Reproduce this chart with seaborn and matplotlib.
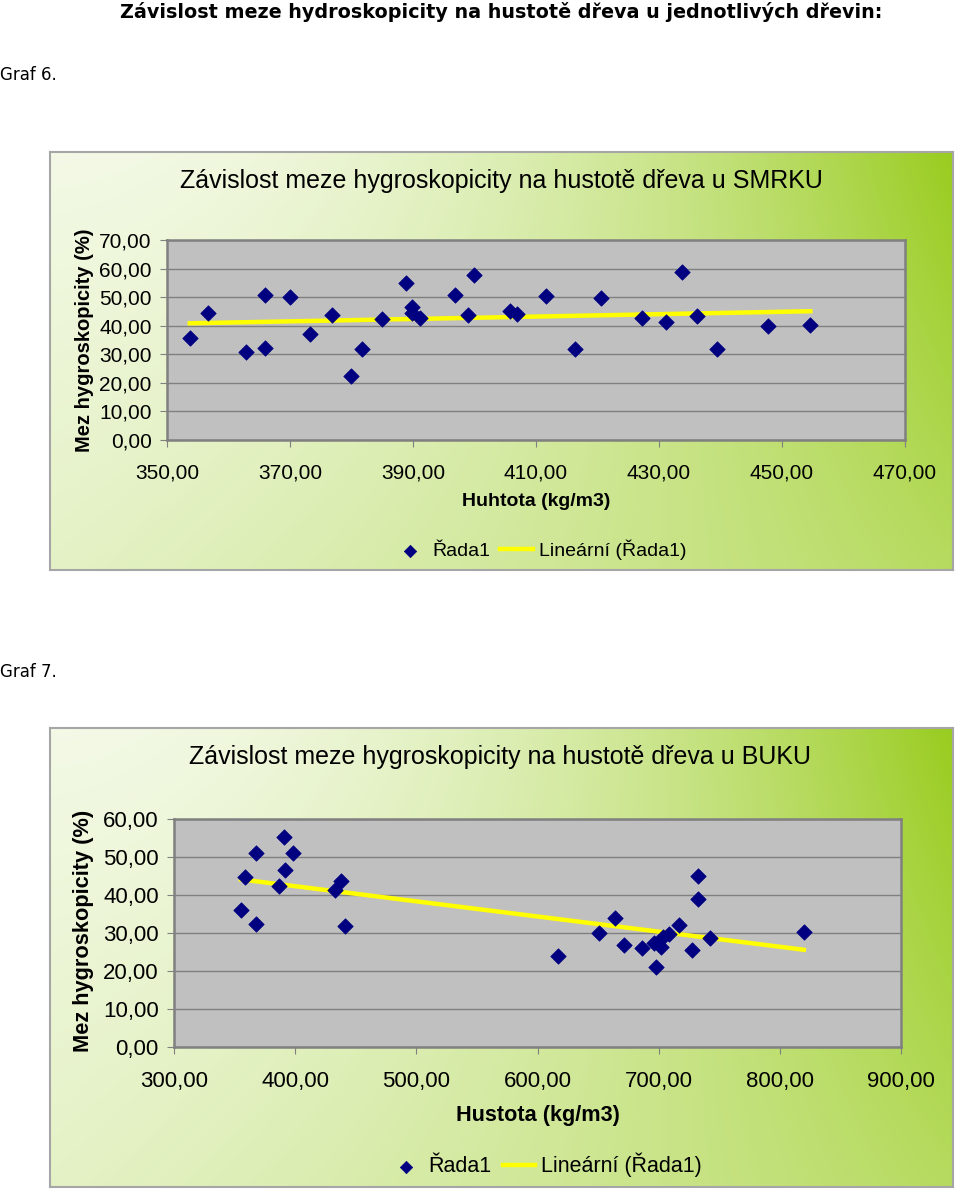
import numpy as np
import pandas as pd
import matplotlib
matplotlib.use('Agg')
import matplotlib.pyplot as plt
import seaborn as sns

# data
smrk_hustota = [353.7, 356.6, 362.9, 365.9, 365.9, 370.0, 373.3, 376.8, 379.9, 381.7,
                384.9, 388.9, 389.9, 389.9, 391.1, 396.9, 399.9, 398.9, 405.8, 406.9,
                411.7, 416.4, 420.6, 427.3, 431.1, 433.8, 436.1, 439.5, 447.8, 454.6]
smrk_mez = [35.8, 44.6, 30.7, 50.7, 32.3, 49.9, 37.0, 43.7, 22.3, 31.9,
            42.2, 55.1, 46.6, 44.6, 42.7, 50.9, 57.9, 43.6, 45.2, 44.1,
            50.3, 32.0, 49.8, 42.8, 41.2, 58.8, 43.3, 31.9, 39.8, 40.1]

buk_hustota = [390.8, 367.9, 398.5, 391.6, 358.6, 386.4, 437.6, 432.9, 355.3, 367.9, 441.1,
               617.2, 650.8, 664.0, 671.1, 686.2, 696.1, 697.5, 701.7, 703.8, 708.3,
               716.5, 727.2, 732.4, 732.4, 742.6, 819.9]
buk_mez = [55.2, 51.0, 51.0, 46.6, 44.8, 42.4, 43.7, 41.3, 36.1, 32.5, 31.9,
           24.0, 29.9, 33.9, 26.8, 26.0, 27.5, 21.0, 26.4, 29.0, 29.7,
           32.0, 25.6, 45.0, 39.0, 28.8, 30.3]

W, H = 960, 1191
fig = plt.figure(figsize=(W / 100, H / 100), dpi=100)
fig.patch.set_facecolor('white')
plt.rcParams['font.family'] = ['Liberation Sans', 'DejaVu Sans']


def box(x0, y0, x1, y1):
    # pixel box -> figure fraction rect
    return [x0 / W, 1 - y1 / H, (x1 - x0) / W, (y1 - y0) / H]


def fx(x):
    return x / W


def fy(y):
    return 1 - y / H


def gradient_frame(x0, y0, x1, y1):
    bg = fig.add_axes(box(x0, y0, x1, y1), zorder=0)
    nx, ny = 300, 150
    tx = np.linspace(0, 1, nx)[None, :]
    ty = np.linspace(0, 1, ny)[:, None]
    a = 0.07 + tx ** 2.0 * (0.93 - 0.45 * ty) + 0.15 * ty + 0.3 * ty * tx * (1 - tx)
    a = np.clip(a, 0, 1)
    light = np.array([0.98, 0.99, 0.96])
    green = np.array([0.60, 0.80, 0.12])
    img = light[None, None, :] * (1 - a[..., None]) + green[None, None, :] * a[..., None]
    bg.imshow(img, aspect='auto', extent=[0, 1, 0, 1], interpolation='bilinear')
    bg.set_xticks([])
    bg.set_yticks([])
    for s in bg.spines.values():
        s.set_color('#a6a6a6')
        s.set_linewidth(1.5)


def chart(area, x, y, xlim, xticks, ylim, yticks, fs, xpad):
    ax = fig.add_axes(box(*area), zorder=2)
    ax.set_facecolor('#c0c0c0')
    df = pd.DataFrame({'x': x, 'y': y})
    sns.scatterplot(data=df, x='x', y='y', ax=ax, marker='D', s=62, color='#000080',
                    edgecolor='#000080', linewidth=0.5, label='Řada1', zorder=4)
    sns.regplot(data=df, x='x', y='y', ax=ax, scatter=False, ci=None, truncate=True,
                label='Lineární (Řada1)', line_kws={'color': '#ffff00', 'lw': 3.2, 'zorder': 3})
    ax.set_xlim(*xlim)
    ax.set_ylim(*ylim)
    ax.set_xticks(xticks)
    ax.set_yticks(yticks)
    ax.set_xticklabels([f'{v:.2f}'.replace('.', ',') for v in xticks], fontsize=fs)
    ax.set_yticklabels([f'{v:.2f}'.replace('.', ',') for v in yticks], fontsize=fs)
    ax.grid(axis='y', color='#808080', lw=1.0)
    ax.grid(axis='x', visible=False)
    ax.set_axisbelow(True)
    ax.tick_params(axis='x', length=5, color='#808080', pad=xpad)
    ax.tick_params(axis='y', length=5, color='#808080', pad=6)
    for s in ax.spines.values():
        s.set_color('#808080')
        s.set_linewidth(1.8)
    ax.set_xlabel('')
    ax.set_ylabel('')
    h, l = ax.get_legend_handles_labels()
    if ax.get_legend():
        ax.get_legend().remove()
    return ax, h, l


fig.text(fx(120), fy(12), 'Závislost meze hydroskopicity na hustotě dřeva u jednotlivých dřevin:',
         fontsize=13.8, fontweight='bold', family='DejaVu Sans', va='center', ha='left')
fig.text(fx(0), fy(75), 'Graf 6.', fontsize=12, family='DejaVu Sans', va='center', ha='left')
fig.text(fx(0), fy(672), 'Graf 7.', fontsize=12, family='DejaVu Sans', va='center', ha='left')

# ---- Graf 6: SMRK
gradient_frame(50, 152, 953, 570)
ax1, h1, l1 = chart((167, 240, 905, 440), smrk_hustota, smrk_mez, (350, 470),
                    list(range(350, 471, 20)), (0, 70), list(range(0, 71, 10)), 15, 12)
fig.text(fx(501), fy(181), 'Závislost meze hygroskopicity na hustotě dřeva u SMRKU',
         fontsize=18, ha='center', va='center')
fig.text(fx(84), fy(340), 'Mez hygroskopicity (%)', fontsize=14.5, fontweight='bold',
         rotation=90, ha='center', va='center')
fig.text(fx(536), fy(502), 'Huhtota (kg/m3)', fontsize=14, fontweight='bold', ha='center', va='center')
fig.legend(h1, l1, loc='center', bbox_to_anchor=(fx(540), fy(550)), ncol=2, frameon=False,
           fontsize=14, handlelength=1.7, columnspacing=0.5, handletextpad=0.3, markerscale=0.8)

# ---- Graf 7: BUK
gradient_frame(50, 728, 953, 1187)
ax2, h2, l2 = chart((174, 819, 901, 1047), buk_hustota, buk_mez, (300, 900),
                    list(range(300, 901, 100)), (0, 60), list(range(0, 61, 10)), 16, 12)
fig.text(fx(500), fy(757), 'Závislost meze hygroskopicity na hustotě dřeva u BUKU',
         fontsize=18, ha='center', va='center')
fig.text(fx(84), fy(931), 'Mez hygroskopicity (%)', fontsize=15.7, fontweight='bold',
         rotation=90, ha='center', va='center')
fig.text(fx(538), fy(1115), 'Hustota (kg/m3)', fontsize=15.6, fontweight='bold', ha='center', va='center')
fig.legend(h2, l2, loc='center', bbox_to_anchor=(fx(546), fy(1165)), ncol=2, frameon=False,
           fontsize=15.5, handlelength=1.5, columnspacing=0.5, handletextpad=0.3, markerscale=0.8)

fig.savefig('out.png', dpi=100)
